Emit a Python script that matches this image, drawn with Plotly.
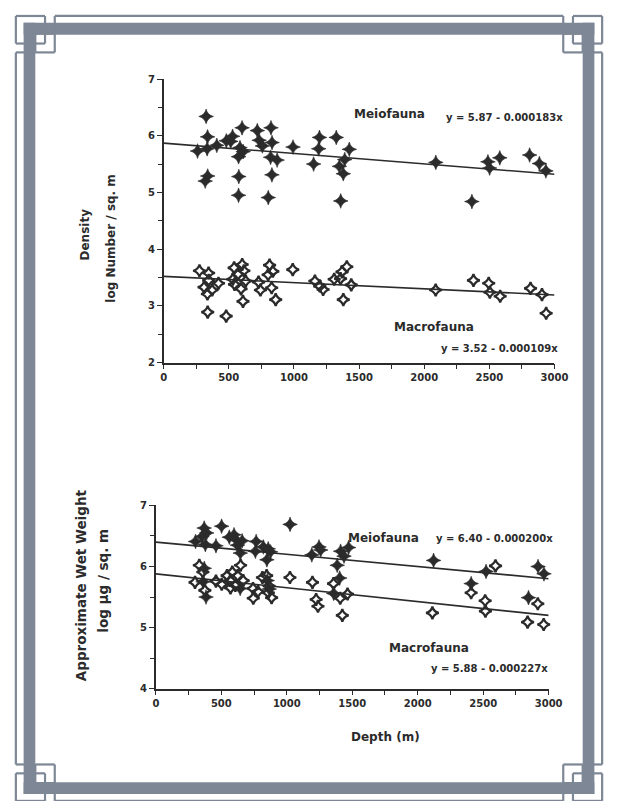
import plotly.graph_objects as go

# ---------------- data ----------------
# Top panel: Density (log Number / sq. m)
dens_meio_depth = [326, 337, 260, 334, 408, 481, 529, 515, 602, 586, 611, 575, 719, 733, 758, 824, 832, 821,
                   871, 993, 1196, 1190, 1151, 1325, 1349, 1379, 1425, 1390, 338, 319, 577, 831, 575, 803,
                   1359, 2089, 2489, 2580, 2502, 2809, 2884, 2934, 2366]
dens_meio_val = [6.34, 5.98, 5.73, 5.77, 5.83, 5.91, 5.99, 5.90, 6.14, 5.79, 5.72, 5.63, 6.09, 5.92, 5.82, 6.14,
                 5.88, 5.62, 5.57, 5.80, 5.97, 5.77, 5.50, 5.97, 5.46, 5.33, 5.76, 5.58, 5.29, 5.20, 5.28, 5.31,
                 4.95, 4.91, 4.85, 5.53, 5.54, 5.61, 5.43, 5.66, 5.51, 5.38, 4.84]
dens_macro_depth = [275, 345, 346, 310, 336, 372, 421, 338, 480, 541, 572, 603, 616, 544, 594, 609, 531, 630,
                    729, 743, 813, 838, 829, 860, 802, 991, 1161, 1199, 1224, 1309, 1358, 1369, 1406, 1379,
                    1440, 2088, 2378, 2495, 2504, 2583, 2816, 2904, 2936]
dens_macro_val = [3.62, 3.58, 3.45, 3.33, 3.21, 3.28, 3.40, 2.89, 2.82, 3.67, 3.56, 3.73, 3.62, 3.38, 3.30, 3.08,
                  3.47, 3.44, 3.42, 3.28, 3.72, 3.61, 3.32, 3.11, 3.55, 3.64, 3.44, 3.35, 3.29, 3.47, 3.48, 3.60,
                  3.69, 3.11, 3.37, 3.28, 3.45, 3.40, 3.24, 3.17, 3.31, 3.20, 2.87]

# Bottom panel: Approximate Wet Weight (log ug / sq. m)
wt_meio_depth = [369, 352, 303, 378, 388, 502, 459, 561, 597, 618, 623, 645, 659, 766, 760, 821, 858, 876, 848,
                 1025, 1191, 1246, 1259, 1411, 1472, 1437, 1385, 1404, 370, 361, 383, 644, 851, 866, 1358,
                 2121, 2522, 2408, 2919, 2964, 2846]
wt_meio_val = [6.63, 6.49, 6.41, 6.36, 6.55, 6.66, 6.34, 6.48, 6.52, 6.43, 6.35, 6.22, 6.42, 6.41, 6.25, 6.32,
               6.29, 6.24, 6.11, 6.69, 6.19, 6.32, 6.27, 6.25, 6.31, 6.17, 6.02, 5.81, 5.97, 5.75, 5.50, 5.64,
               5.77, 5.63, 5.56, 6.10, 5.92, 5.72, 6.00, 5.88, 5.49]
wt_macro_depth = [332, 359, 299, 374, 459, 503, 544, 569, 584, 607, 647, 625, 667, 570, 742, 744, 780, 814, 846,
                  865, 884, 859, 1024, 1196, 1224, 1238, 1357, 1408, 1464, 1424, 2594, 2408, 2515, 2517, 2112,
                  2917, 2839, 2962]
wt_macro_val = [6.02, 5.91, 5.74, 5.61, 5.76, 5.71, 5.85, 5.77, 5.91, 5.69, 6.02, 5.85, 5.77, 5.65, 5.64, 5.48,
                5.59, 5.82, 5.85, 5.68, 5.49, 5.57, 5.82, 5.74, 5.46, 5.35, 5.72, 5.48, 5.55, 5.20, 6.01, 5.57,
                5.44, 5.27, 5.24, 5.39, 5.09, 5.05]

# Regression equations printed on the chart (intercept, slope)
dens_meio_fit = (5.87, -0.000183)
dens_macro_fit = (3.52, -0.000109)
wt_meio_fit = (6.40, -0.000200)
wt_macro_fit = (5.88, -0.000227)
fit_depth_range = [0, 3000]

x_tick_vals = [0, 500, 1000, 1500, 2000, 2500, 3000]
dens_y_ticks = [2, 3, 4, 5, 6, 7]
wt_y_ticks = [4, 5, 6, 7]

# ---------------- styling ----------------
PAGE_W, PAGE_H = 629, 809
BODY_MARGIN = 8                      # default browser body margin around the plot div
W, H = PAGE_W - 2 * BODY_MARGIN, PAGE_H - 2 * BODY_MARGIN
INK = "#2b2b2b"
FRAME = "#7d8795"
FONT = "DejaVu Sans"


def px(x):
    """page pixel x -> paper fraction"""
    return (x - BODY_MARGIN) / W


def py(y):
    """page pixel y -> paper fraction"""
    return 1 - (y - BODY_MARGIN) / H


fig = go.Figure()

filled = dict(symbol="star-diamond", size=10.5, color=INK, line=dict(width=0.6, color=INK))
hollow = dict(symbol="star-diamond-open", size=9, color=INK, line=dict(width=2.2, color=INK))


def fit_line(fit, xs):
    a, b = fit
    return [a + b * x for x in xs]


# top panel
fig.add_trace(go.Scatter(x=dens_meio_depth, y=dens_meio_val, mode="markers", marker=filled,
                         xaxis="x", yaxis="y", cliponaxis=False, showlegend=False))
fig.add_trace(go.Scatter(x=dens_macro_depth, y=dens_macro_val, mode="markers", marker=hollow,
                         xaxis="x", yaxis="y", cliponaxis=False, showlegend=False))
for fit in (dens_meio_fit, dens_macro_fit):
    fig.add_trace(go.Scatter(x=fit_depth_range, y=fit_line(fit, fit_depth_range), mode="lines",
                             line=dict(color=INK, width=1.6), xaxis="x", yaxis="y",
                             cliponaxis=False, showlegend=False))

# bottom panel
fig.add_trace(go.Scatter(x=wt_meio_depth, y=wt_meio_val, mode="markers", marker=filled,
                         xaxis="x2", yaxis="y2", cliponaxis=False, showlegend=False))
fig.add_trace(go.Scatter(x=wt_macro_depth, y=wt_macro_val, mode="markers", marker=hollow,
                         xaxis="x2", yaxis="y2", cliponaxis=False, showlegend=False))
for fit in (wt_meio_fit, wt_macro_fit):
    fig.add_trace(go.Scatter(x=fit_depth_range, y=fit_line(fit, fit_depth_range), mode="lines",
                             line=dict(color=INK, width=1.6), xaxis="x2", yaxis="y2",
                             cliponaxis=False, showlegend=False))

tickfont = dict(family=FONT, size=10, color=INK, weight="bold")
xax = dict(range=[0, 3000], tickvals=x_tick_vals, showline=True, linecolor=INK, linewidth=1.6,
           ticks="outside", ticklen=5, tickwidth=1.3, tickcolor=INK, showgrid=False, zeroline=False,
           tickfont=tickfont, minor=dict(dtick=250, ticks="outside", ticklen=5, tickwidth=1.3, tickcolor=INK))
yax = dict(showline=True, linecolor=INK, linewidth=1.6, ticks="outside", ticklen=5, tickwidth=1.3,
           tickcolor=INK, showgrid=False, zeroline=False, tickfont=tickfont,
           minor=dict(dtick=0.5, ticks="outside", ticklen=4, tickwidth=1.3, tickcolor=INK))

fig.update_layout(
    width=W, height=H, margin=dict(l=0, r=0, t=0, b=0),
    paper_bgcolor="white", plot_bgcolor="white",
    xaxis=dict(xax, domain=[px(165), px(567)], anchor="y"),
    yaxis=dict(yax, domain=[py(362), py(74)], range=[2, 7], tickvals=dens_y_ticks, anchor="x"),
    xaxis2=dict(xax, domain=[px(157), px(561)], anchor="y2"),
    yaxis2=dict(yax, domain=[py(693), py(507)], range=[4, 7], tickvals=wt_y_ticks, anchor="x2"),
)

ann_font = dict(family=FONT, size=12, color=INK, weight="bold")
eq_font = dict(family=FONT, size=10, color=INK, weight="bold")
title_font = dict(family=FONT, size=12, color=INK, weight="bold")
title_font2 = dict(family=FONT, size=13.5, color=INK, weight="bold")
anns = [
    ("Meiofauna", 397, 110, ann_font, 0),
    ("y = 5.87 - 0.000183x", 516, 113, eq_font, 0),
    ("Macrofauna", 443, 326, ann_font, 0),
    ("y = 3.52 - 0.000109x", 510, 348, eq_font, 0),
    ("Meiofauna", 391, 540, ann_font, 0),
    ("y = 6.40 - 0.000200x", 505, 541, eq_font, 0),
    ("Macrofauna", 438, 652, ann_font, 0),
    ("y = 5.88 - 0.000227x", 500, 673, eq_font, 0),
    ("Density", 84, 232, title_font, -90),
    ("log Number / sq. m", 110, 236, title_font, -90),
    ("Approximate Wet Weight", 80, 588, title_font2, -90),
    ("log \u00b5g / sq. m", 103, 583, title_font2, -90),
    ("Depth (m)", 393, 742, title_font, 0),
]
for text, x, y, f, ang in anns:
    fig.add_annotation(text=text, x=px(x), y=py(y), xref="paper", yref="paper", showarrow=False,
                       font=f, textangle=ang, xanchor="center", yanchor="middle")

# ---------------- decorative frame ----------------
def rect(x0, y0, x1, y1, **kw):
    fig.add_shape(type="rect", xref="paper", yref="paper", x0=px(x0), x1=px(x1), y0=py(y0), y1=py(y1),
                  layer="below", **kw)


def seg(x0, y0, x1, y1):
    fig.add_shape(type="line", xref="paper", yref="paper", x0=px(x0), x1=px(x1), y0=py(y0), y1=py(y1),
                  line=dict(color=FRAME, width=2.2), layer="above")


fill = dict(fillcolor=FRAME, line=dict(width=0))
rect(21, 17, 608, 29, **fill)      # top band
rect(21, 788, 608, 800, **fill)    # bottom band
rect(21, 17, 33, 800, **fill)      # left band
rect(596, 17, 608, 800, **fill)    # right band

CX = 629        # mirror x -> CX - x
CY = 817        # mirror y -> CY - y


def corner(fx, fy):
    def X(x):
        return CX - x if fx else x

    def Y(y):
        return CY - y if fy else y
    # small square A
    seg(X(13), Y(10), X(43), Y(10))
    seg(X(43), Y(10), X(43), Y(38))
    seg(X(43), Y(38), X(13), Y(38))
    seg(X(13), Y(38), X(13), Y(10))
    # small square B
    seg(X(33), Y(28), X(53), Y(28))
    seg(X(53), Y(10), X(53), Y(47))
    seg(X(53), Y(47), X(33), Y(47))
    seg(X(33), Y(47), X(33), Y(28))
    seg(X(13), Y(47), X(33), Y(47))


for fx in (False, True):
    for fy in (False, True):
        corner(fx, fy)

# long thin outer lines
seg(53, 10, CX - 53, 10)
seg(53, CY - 10, CX - 53, CY - 10)
seg(13, 47, 13, CY - 47)
seg(CX - 13, 47, CX - 13, CY - 47)

fig.write_html("out.html")
